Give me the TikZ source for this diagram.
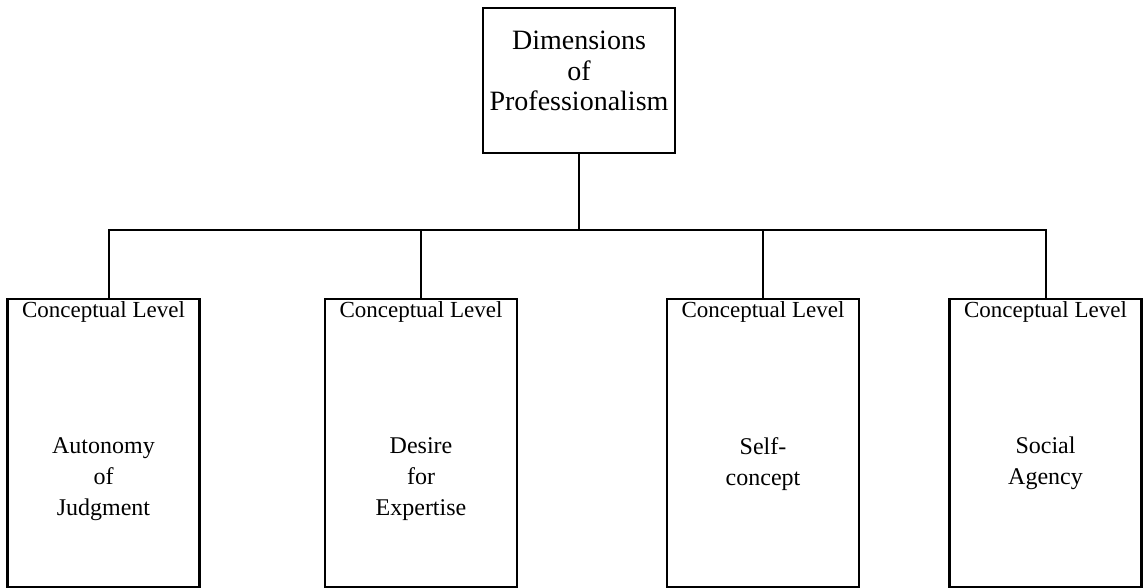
\documentclass[tikz,border=0pt]{standalone}
\usepackage{fontspec}
\setmainfont{Liberation Serif}
\begin{document}
\begin{tikzpicture}[x=1pt,y=-1pt,
  box/.style={draw=black, line width=2.3pt, rectangle, inner sep=0pt},
  lvl/.style={box, minimum width=192pt, minimum height=288pt},
  conn/.style={draw=black, line width=2.3pt},
  head/.style={font=\fontsize{23}{27}\selectfont, anchor=base, inner sep=0pt},
  mid/.style={font=\fontsize{24}{31}\selectfont, align=center, anchor=north, inner sep=0pt},
  toptxt/.style={font=\fontsize{28}{30.5}\selectfont, align=center, anchor=north, inner sep=0pt}]
\useasboundingbox (0,0) rectangle (1144,588);
% top box
\node[box, minimum width=192pt, minimum height=145pt] (top) at (579,80.5) {};
\node[toptxt] (toptext) at (579,31) {Dimensions\\of\\Professionalism};
% level boxes
\node[lvl] (b1) at (103.5,443) {};
\node[lvl] (b2) at (421,443) {};
\node[lvl] (b3) at (763,443) {};
\node[lvl] (b4) at (1045.5,443) {};
\node[head] (h1) at (103.5,318) {Conceptual Level};
\node[head] (h2) at (421,318) {Conceptual Level};
\node[head] (h3) at (763,318) {Conceptual Level};
\node[head] (h4) at (1045.5,318) {Conceptual Level};
\node[mid] (m1) at (103.5,437) {Autonomy\\of\\Judgment};
\node[mid] (m2) at (421,437) {Desire\\for\\Expertise};
\node[mid] (m3) at (763,437) {Self-\\concept};
\node[mid] (m4) at (1045.5,437) {Social\\Agency};
% connectors
\coordinate (hub) at (577,230);
\coordinate (j1) at (109,230);
\coordinate (j4) at (1046,230);
\draw[conn] (top.south) -- (top.south |- hub);
\draw[conn] (j1 |- b1.north) -- (j1) -- (j4) -- (j4 |- b4.north);
\draw[conn] (b2.north |- hub) -- (b2.north);
\draw[conn] (b3.north |- hub) -- (b3.north);
\end{tikzpicture}
\end{document}
